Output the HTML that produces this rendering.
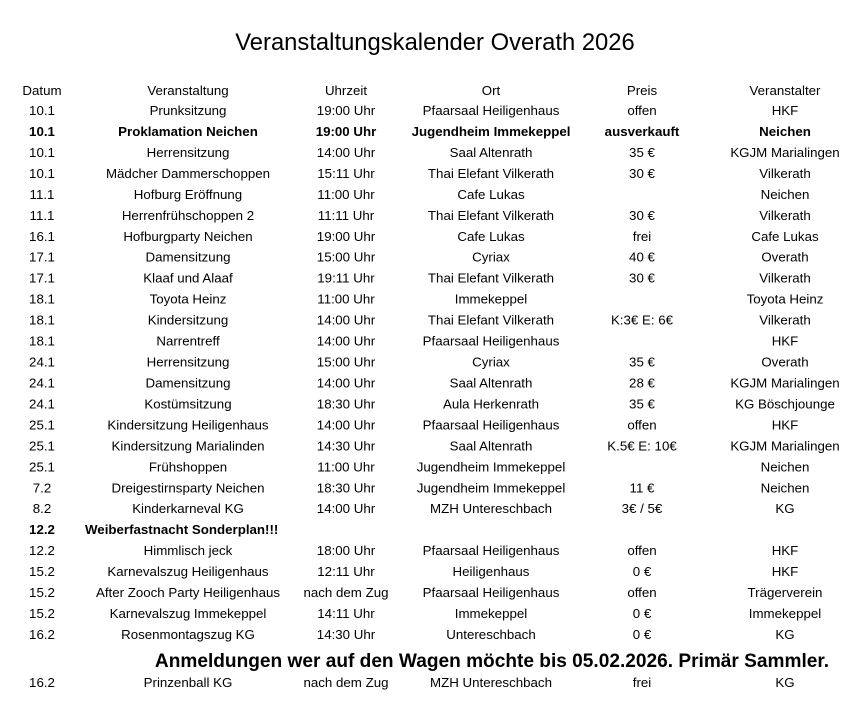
<!DOCTYPE html>
<html><head><meta charset="utf-8"><style>
html,body{margin:0;padding:0;background:#fff;}
svg text{font-family:"Liberation Sans",sans-serif;font-size:13.3px;fill:#000;}
</style></head><body>
<svg width="860" height="708" xmlns="http://www.w3.org/2000/svg">
<rect width="860" height="708" fill="#fff"/>
<text x="435" y="50" text-anchor="middle" style="font-size:23.8px">Veranstaltungskalender Overath 2026</text>
<g text-anchor="middle" id="t"></g>
</svg>
<script>
var rows=[
["Datum","Veranstaltung","Uhrzeit","Ort","Preis","Veranstalter"],
["10.1","Prunksitzung","19:00 Uhr","Pfaarsaal Heiligenhaus","offen","HKF"],
["10.1","Proklamation Neichen","19:00 Uhr","Jugendheim Immekeppel","ausverkauft","Neichen",1],
["10.1","Herrensitzung","14:00 Uhr","Saal Altenrath","35 €","KGJM Marialingen"],
["10.1","Mädcher Dammerschoppen","15:11 Uhr","Thai Elefant Vilkerath","30 €","Vilkerath"],
["11.1","Hofburg Eröffnung","11:00 Uhr","Cafe Lukas","","Neichen"],
["11.1","Herrenfrühschoppen 2","11:11 Uhr","Thai Elefant Vilkerath","30 €","Vilkerath"],
["16.1","Hofburgparty Neichen","19:00 Uhr","Cafe Lukas","frei","Cafe Lukas"],
["17.1","Damensitzung","15:00 Uhr","Cyriax","40 €","Overath"],
["17.1","Klaaf und Alaaf","19:11 Uhr","Thai Elefant Vilkerath","30 €","Vilkerath"],
["18.1","Toyota Heinz","11:00 Uhr","Immekeppel","","Toyota Heinz"],
["18.1","Kindersitzung","14:00 Uhr","Thai Elefant Vilkerath","K:3€ E: 6€","Vilkerath"],
["18.1","Narrentreff","14:00 Uhr","Pfaarsaal Heiligenhaus","","HKF"],
["24.1","Herrensitzung","15:00 Uhr","Cyriax","35 €","Overath"],
["24.1","Damensitzung","14:00 Uhr","Saal Altenrath","28 €","KGJM Marialingen"],
["24.1","Kostümsitzung","18:30 Uhr","Aula Herkenrath","35 €","KG Böschjounge"],
["25.1","Kindersitzung Heiligenhaus","14:00 Uhr","Pfaarsaal Heiligenhaus","offen","HKF"],
["25.1","Kindersitzung  Marialinden","14:30 Uhr","Saal Altenrath","K.5€ E: 10€","KGJM Marialingen"],
["25.1","Frühshoppen","11:00 Uhr","Jugendheim Immekeppel","","Neichen"],
["7.2","Dreigestirnsparty Neichen","18:30 Uhr","Jugendheim Immekeppel","11 €","Neichen"],
["8.2","Kinderkarneval KG","14:00 Uhr","MZH Untereschbach","3€ / 5€","KG"],
["12.2","","","","","",2],
["12.2","Himmlisch jeck","18:00 Uhr","Pfaarsaal Heiligenhaus","offen","HKF"],
["15.2","Karnevalszug Heiligenhaus","12:11 Uhr","Heiligenhaus","0 €","HKF"],
["15.2","After Zooch Party Heiligenhaus","nach dem Zug","Pfaarsaal Heiligenhaus","offen","Trägerverein"],
["15.2","Karnevalszug Immekeppel","14:11 Uhr","Immekeppel","0 €","Immekeppel"],
["16.2","Rosenmontagszug KG","14:30 Uhr","Untereschbach","0 €","KG"]
];
var xs=[42,188,346,491,642,785];
var g=document.getElementById('t'),ns="http://www.w3.org/2000/svg";
function T(x,y,s,b,anchor,size){var t=document.createElementNS(ns,'text');t.setAttribute('x',x);t.setAttribute('y',y);t.textContent=s;if(b)t.setAttribute('font-weight','bold');if(anchor)t.setAttribute('text-anchor',anchor);if(size)t.style.fontSize=size;g.appendChild(t);}
rows.forEach(function(r,i){var y=i==0?95:115+(i-1)*20.96;var b=r[6]==1||r[6]==2;
for(var c=0;c<6;c++)if(r[c])T(xs[c],y,r[c],b);
if(r[6]==2)T(85,y,"Weiberfastnacht Sonderplan!!!",true,"start");});
T(492,667,"Anmeldungen wer auf den Wagen möchte bis 05.02.2026. Primär Sammler.",true,"middle","19.1px");
var last=["16.2","Prinzenball KG","nach dem Zug","MZH Untereschbach","frei","KG"];
for(var c=0;c<6;c++)T(xs[c],687,last[c]);
</script>
</body></html>
